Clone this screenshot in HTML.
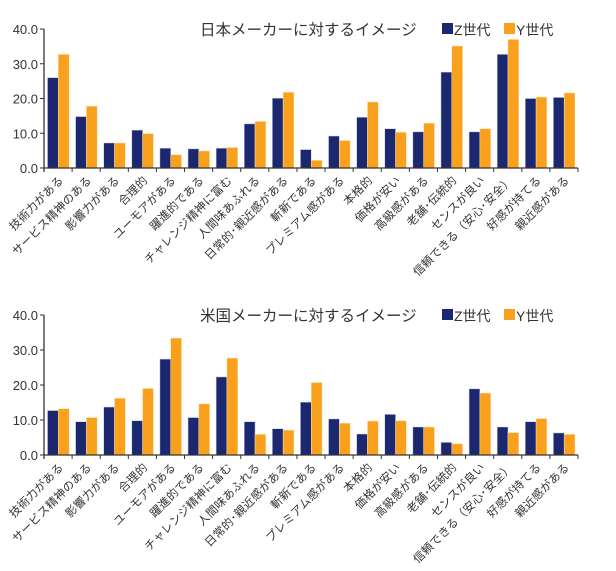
<!DOCTYPE html>
<html><head><meta charset="utf-8"><style>
body{margin:0;background:#fff;}
svg text{font-family:"Liberation Sans","Noto Sans CJK JP",sans-serif;fill:#333;}
</style></head><body>
<svg id="s" width="616" height="566" xmlns="http://www.w3.org/2000/svg"></svg>
<script>
const cats=["技術力がある","サービス精神のある","影響力がある","合理的","ユーモアがある","躍進的である","チャレンジ精神に富む","人間味あふれる","日常的･親近感がある","斬新である","プレミアム感がある","本格的","価格が安い","高級感がある","老舗･伝統的","センスが良い","信頼できる（安心･安全）","好感が持てる","親近感がある"];
const charts=[
{title:"日本メーカーに対するイメージ",y0:168,y40:29,
Z:[26,14.8,7.2,10.9,5.7,5.5,5.7,12.7,20.1,5.3,9.2,14.6,11.3,10.4,27.6,10.4,32.7,20,20.3],
Y:[32.7,17.8,7.2,9.9,3.8,4.9,5.9,13.4,21.8,2.2,7.9,19,10.3,12.9,35.1,11.3,37,20.4,21.6]},
{title:"米国メーカーに対するイメージ",y0:455,y40:315,
Z:[12.7,9.5,13.7,9.8,27.4,10.7,22.3,9.5,7.5,15.1,10.3,6,11.6,8,3.6,18.9,8,9.5,6.3],
Y:[13.2,10.7,16.2,19,33.4,14.6,27.7,5.9,7.1,20.7,9.1,9.7,9.8,8,3.2,17.7,6.4,10.4,5.9]}];
let h="";
const x0=44,x1=578,w=(x1-x0)/19;
charts.forEach(c=>{
 const k=(c.y0-c.y40)/40;
 for(let i=0;i<=4;i++){const y=c.y0-i*10*k;
  h+=`<text x="38" y="${y+5}" font-size="13" text-anchor="end">${(i*10).toFixed(1)}</text>`;
  h+=`<line x1="40" y1="${y}" x2="44" y2="${y}" stroke="#333" stroke-width="1"/>`;}
 for(let i=0;i<19;i++){const gx=x0+i*w;
  const zh=c.Z[i]*k,yh=c.Y[i]*k;
  h+=`<rect x="${gx+3.5}" y="${c.y0-zh}" width="10.8" height="${zh}" fill="#1b2870" stroke="#c9cde4" stroke-width="0.5"/>`;
  h+=`<rect x="${gx+14.3}" y="${c.y0-yh}" width="10.8" height="${yh}" fill="#f9a11d" stroke="#fde2b8" stroke-width="0.5"/>`;
  h+=`<line x1="${gx+w}" y1="${c.y0}" x2="${gx+w}" y2="${c.y0+4}" stroke="#333"/>`;
  const cx=gx+w/2+6,cy=c.y0+13;
  h+=`<text x="${cx}" y="${cy}" font-size="11.5" letter-spacing="0.3" text-anchor="end" transform="rotate(-45 ${cx} ${cy})">${cats[i]}</text>`;}
 h+=`<line x1="44" y1="${c.y40}" x2="44" y2="${c.y0+4}" stroke="#333" stroke-width="1.3"/>`;
 h+=`<line x1="44" y1="${c.y0}" x2="${x1}" y2="${c.y0}" stroke="#333" stroke-width="1.3"/>`;
 const ty=c.y40+6;
 h+=`<text x="200" y="${ty}" font-size="15.5">${c.title}</text>`;
 h+=`<rect x="442" y="${ty-12}" width="11" height="11" fill="#1b2870"/><text x="454" y="${ty}" font-size="14">Z世代</text>`;
 h+=`<rect x="504" y="${ty-12}" width="11" height="11" fill="#f9a11d"/><text x="516" y="${ty}" font-size="14">Y世代</text>`;
});
document.getElementById("s").innerHTML=h;
</script>
</body></html>
